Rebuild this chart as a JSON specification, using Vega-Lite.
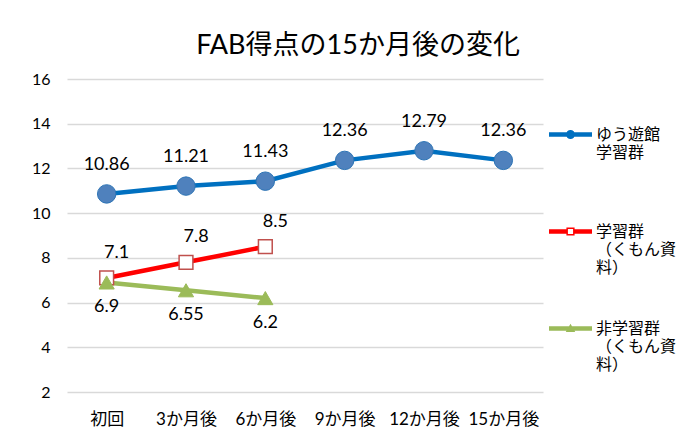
{
  "$schema": "https://vega.github.io/schema/vega-lite/v6.json",
  "autosize": {"type": "none"},
  "width": 476,
  "height": 313,
  "padding": {"left": 67, "top": 79, "right": 138, "bottom": 53},
  "background": "white",
  "title": {
    "text": "FAB得点の15か月後の変化",
    "font": "Lato, Noto Sans CJK JP",
    "fontSize": 27,
    "fontWeight": "normal",
    "color": "#000000",
    "anchor": "middle",
    "frame": "group",
    "offset": 11,
    "dx": 53
  },
  "data": {
    "values": [
      {"t": "初回", "series": "ゆう遊館学習群", "v": 10.86},
      {"t": "3か月後", "series": "ゆう遊館学習群", "v": 11.21},
      {"t": "6か月後", "series": "ゆう遊館学習群", "v": 11.43},
      {"t": "9か月後", "series": "ゆう遊館学習群", "v": 12.36},
      {"t": "12か月後", "series": "ゆう遊館学習群", "v": 12.79},
      {"t": "15か月後", "series": "ゆう遊館学習群", "v": 12.36},
      {"t": "初回", "series": "学習群（くもん資料）", "v": 7.1},
      {"t": "3か月後", "series": "学習群（くもん資料）", "v": 7.8},
      {"t": "6か月後", "series": "学習群（くもん資料）", "v": 8.5},
      {"t": "初回", "series": "非学習群（くもん資料）", "v": 6.9},
      {"t": "3か月後", "series": "非学習群（くもん資料）", "v": 6.55},
      {"t": "6か月後", "series": "非学習群（くもん資料）", "v": 6.2}
    ]
  },
  "encoding": {
    "x": {
      "field": "t",
      "type": "ordinal",
      "sort": ["初回", "3か月後", "6か月後", "9か月後", "12か月後", "15か月後"],
      "scale": {"type": "point", "padding": 0.5},
      "axis": {
        "title": null,
        "labelAngle": 0,
        "domain": false,
        "ticks": false,
        "grid": false,
        "labelPadding": 19,
        "labelFont": "Lato, Noto Sans CJK JP",
        "labelFontSize": 17,
        "labelColor": "#000000"
      }
    },
    "y": {
      "field": "v",
      "type": "quantitative",
      "scale": {"domain": [2, 16], "nice": false, "zero": false},
      "axis": {
        "title": null,
        "values": [2, 4, 6, 8, 10, 12, 14, 16],
        "domain": false,
        "ticks": false,
        "gridColor": "#D9D9D9",
        "gridWidth": 1.3,
        "labelPadding": 17,
        "labelFont": "Lato, Noto Sans CJK JP",
        "labelFontSize": 16,
        "labelColor": "#000000"
      }
    }
  },
  "layer": [
    {
      "transform": [{"filter": "datum.series == 'ゆう遊館学習群'"}],
      "mark": {"type": "line", "strokeWidth": 4.5, "color": "#0070C0"}
    },
    {
      "transform": [{"filter": "datum.series == '学習群（くもん資料）'"}],
      "mark": {"type": "line", "strokeWidth": 4.5, "color": "#FF0000"}
    },
    {
      "transform": [{"filter": "datum.series == '非学習群（くもん資料）'"}],
      "mark": {"type": "line", "strokeWidth": 4.5, "color": "#9BBB59"}
    },
    {
      "transform": [{"filter": "datum.series == 'ゆう遊館学習群'"}],
      "mark": {"type": "point", "shape": "circle", "filled": true, "size": 340, "fill": "#4F81BD", "stroke": "#2E75B6", "strokeWidth": 1, "opacity": 1}
    },
    {
      "transform": [{"filter": "datum.series == '学習群（くもん資料）'"}],
      "mark": {"type": "point", "shape": "square", "filled": true, "size": 190, "fill": "#FFFFFF", "stroke": "#C0504D", "strokeWidth": 1.5, "opacity": 1}
    },
    {
      "transform": [{"filter": "datum.series == '非学習群（くもん資料）'"}],
      "mark": {"type": "point", "shape": "triangle-up", "filled": true, "size": 230, "fill": "#9BBB59", "stroke": "#9BBB59", "strokeWidth": 1, "opacity": 1}
    },
    {
      "transform": [{"filter": "datum.series == 'ゆう遊館学習群'"}],
      "mark": {"type": "text", "dy": -29, "baseline": "middle", "font": "Lato, Noto Sans CJK JP", "fontSize": 18, "color": "#000000"},
      "encoding": {"text": {"field": "v", "type": "quantitative", "format": ".2f"}}
    },
    {
      "transform": [{"filter": "datum.series == '学習群（くもん資料）'"}],
      "mark": {"type": "text", "dx": 10, "dy": -25, "baseline": "middle", "font": "Lato, Noto Sans CJK JP", "fontSize": 18, "color": "#000000"},
      "encoding": {"text": {"field": "v", "type": "quantitative"}}
    },
    {
      "transform": [{"filter": "datum.series == '非学習群（くもん資料）'"}],
      "mark": {"type": "text", "dy": 25, "baseline": "middle", "font": "Lato, Noto Sans CJK JP", "fontSize": 18, "color": "#000000"},
      "encoding": {"text": {"field": "v", "type": "quantitative"}}
    },
    {
      "mark": {"type": "point", "filled": true, "opacity": 0},
      "encoding": {
        "shape": {
          "field": "series",
          "type": "nominal",
          "scale": {
            "domain": ["ゆう遊館学習群", "学習群（くもん資料）", "非学習群（くもん資料）"],
            "range": [
              "M-1,-0.1L1,-0.1L1,0.1L-1,0.1Z M0.21,0L0.194,0.08L0.148,0.148L0.08,0.194L0,0.21L-0.08,0.194L-0.148,0.148L-0.194,0.08L-0.21,0L-0.194,-0.08L-0.148,-0.148L-0.08,-0.194L0,-0.21L0.08,-0.194L0.148,-0.148L0.194,-0.08Z",
              "M-1,-0.1L-0.19,-0.1L-0.19,0.1L-1,0.1Z M0.19,-0.1L1,-0.1L1,0.1L0.19,0.1Z M-0.19,-0.19L0.19,-0.19L0.19,0.19L-0.19,0.19Z M-0.12,-0.12L-0.12,0.12L0.12,0.12L0.12,-0.12Z",
              "M-1,-0.1L1,-0.1L1,0.1L-1,0.1Z M0,-0.22L0.22,0.16L-0.22,0.16Z"
            ]
          },
          "legend": {
            "orient": "none",
            "legendX": 482,
            "legendY": 34,
            "title": null,
            "padding": 0,
            "symbolSize": 1849,
            "symbolOpacity": 1,
            "symbolStrokeWidth": 0,
            "labelOffset": 4,
            "labelFont": "Lato, Noto Sans CJK JP",
            "labelFontSize": 16,
            "labelColor": "#000000",
            "labelBaseline": "middle",
            "labelLimit": 200,
            "rowPadding": 31,
            "labelExpr": "datum.label == 'ゆう遊館学習群' ? ['ゆう遊館', '学習群', ' '] : datum.label == '学習群（くもん資料）' ? ['学習群', '（くもん資', '料）'] : ['非学習群', '（くもん資', '料）']"
          }
        },
        "fill": {
          "field": "series",
          "type": "nominal",
          "scale": {
            "domain": ["ゆう遊館学習群", "学習群（くもん資料）", "非学習群（くもん資料）"],
            "range": ["#0070C0", "#FF0000", "#9BBB59"]
          }
        }
      }
    }
  ],
  "config": {
    "view": {"stroke": null},
    "axis": {"gridColor": "#D9D9D9"}
  }
}
